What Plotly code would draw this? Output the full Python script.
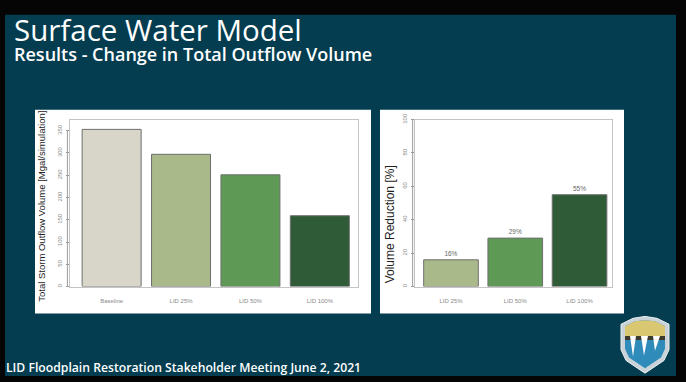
import plotly.graph_objects as go

# ---- data ----
scenarios = ["Baseline", "LID 25%", "LID 50%", "LID 100%"]
outflow_mgal = [353, 297, 251, 159]
outflow_colors = ["#d8d6c9", "#aab98a", "#5e9a56", "#2f5c37"]

lid_scenarios = ["LID 25%", "LID 50%", "LID 100%"]
reduction_pct = [16, 29, 55]
reduction_colors = ["#aab98a", "#5e9a56", "#2f5c37"]

outflow_ticks = [0, 50, 100, 150, 200, 250, 300, 350]
reduction_ticks = [0, 20, 40, 60, 80, 100]

W, H = 686, 382
TEAL = "#033d4f"


def fx(px):
    return px / W


def fy(py):
    return 1 - py / H


def path(points):
    s = "M " + " L ".join(f"{fx(x):.5f},{fy(y):.5f}" for x, y in points)
    return s + " Z"


fig = go.Figure()

fig.add_trace(go.Bar(
    x=scenarios, y=outflow_mgal, xaxis="x", yaxis="y",
    marker=dict(color=outflow_colors, line=dict(color="#6e6e6e", width=1)),
    showlegend=False, hoverinfo="skip",
))

fig.add_trace(go.Bar(
    x=lid_scenarios, y=reduction_pct, xaxis="x2", yaxis="y2",
    marker=dict(color=reduction_colors, line=dict(color="#6e6e6e", width=1)),
    text=[f"{v}%" for v in reduction_pct], textposition="outside",
    textfont=dict(family="Liberation Sans, Arial", size=6.5, color="#666666"),
    cliponaxis=False, showlegend=False, hoverinfo="skip",
))

tick_font = dict(family="Liberation Sans, Arial", size=6, color="#8a8a8a")
frame = dict(showline=True, linecolor="#c4c4c4", linewidth=1, mirror=True,
             showgrid=False, zeroline=False)

fig.update_layout(
    width=W, height=H,
    margin=dict(l=0, r=0, t=0, b=0),
    paper_bgcolor="#050505",
    plot_bgcolor="white",
    bargap=0.15,
    xaxis=dict(domain=[fx(70), fx(358)], range=[-0.6, 3.55], ticks="",
               tickfont=tick_font, ticklabelstandoff=8, fixedrange=True, **frame),
    yaxis=dict(domain=[fy(285.5), fy(115)], range=[0, 375], tickvals=outflow_ticks,
               ticks="outside", ticklen=3, tickcolor="#9a9a9a", tickangle=-90,
               tickfont=tick_font, ticklabelstandoff=2, fixedrange=True, **frame),
    xaxis2=dict(domain=[fx(415), fx(612)], range=[-0.56, 2.505], ticks="",
                tickfont=tick_font, ticklabelstandoff=8, fixedrange=True,
                anchor="y2", **frame),
    yaxis2=dict(domain=[fy(285.5), fy(115)], range=[0, 100], tickvals=reduction_ticks,
                ticks="outside", ticklen=3, tickcolor="#9a9a9a", tickangle=-90,
                tickfont=tick_font, ticklabelstandoff=2, fixedrange=True,
                anchor="x2", **frame),
)

shapes = [
    # slide body
    dict(type="rect", xref="paper", yref="paper", x0=fx(5), x1=fx(676),
         y0=fy(377), y1=fy(8), fillcolor=TEAL, line=dict(width=0), layer="below"),
    # white chart panels
    dict(type="rect", xref="paper", yref="paper", x0=fx(35), x1=fx(371),
         y0=fy(313), y1=fy(105), fillcolor="white", line=dict(width=0), layer="below"),
    dict(type="rect", xref="paper", yref="paper", x0=fx(380), x1=fx(624),
         y0=fy(313), y1=fy(105), fillcolor="white", line=dict(width=0), layer="below"),
    # offset value-axis lines
    dict(type="line", xref="x domain", yref="y", x0=-0.009, x1=-0.009, y0=0, y1=350,
         line=dict(color="#9a9a9a", width=1)),
    dict(type="line", xref="x2 domain", yref="y2", x0=-0.012, x1=-0.012, y0=0, y1=100,
         line=dict(color="#9a9a9a", width=1)),
    # emblem
    dict(type="path", xref="paper", yref="paper",
         path=path([(621, 324), (633, 318), (645, 316), (657, 318), (669, 324),
                    (669, 350), (664, 361), (645, 374), (626, 361), (621, 350)]),
         fillcolor="#c9d3d9", line=dict(color="#e8eef0", width=1)),
    dict(type="path", xref="paper", yref="paper",
         path=path([(625, 326), (635, 321), (645, 320), (655, 321), (665, 326),
                    (665, 349), (661, 358), (645, 369), (629, 358), (625, 349)]),
         fillcolor="#2f8cba", line=dict(width=0)),
    dict(type="path", xref="paper", yref="paper",
         path=path([(625, 326), (635, 321), (645, 320), (655, 321), (665, 326),
                    (665, 336), (625, 336)]),
         fillcolor="#d9c772", line=dict(width=0)),
    dict(type="path", xref="paper", yref="paper",
         path=path([(625, 336), (665, 336), (665, 340), (625, 340)]),
         fillcolor="#3c3a2c", line=dict(width=0)),
    dict(type="path", xref="paper", yref="paper",
         path=path([(630, 336), (636, 336), (633, 357)]),
         fillcolor="white", line=dict(width=0)),
    dict(type="path", xref="paper", yref="paper",
         path=path([(641, 336), (648, 336), (644, 356)]),
         fillcolor="white", line=dict(width=0)),
    dict(type="path", xref="paper", yref="paper",
         path=path([(653, 336), (660, 336), (655, 351)]),
         fillcolor="white", line=dict(width=0)),
]
fig.update_layout(shapes=shapes)

title_font = "Open Sans, Noto Sans, sans-serif"
annotations = [
    dict(text="Surface Water Model", x=fx(12), y=fy(23), xref="paper", yref="paper",
         xanchor="left", yanchor="middle", showarrow=False,
         font=dict(family=title_font, size=29.5, color="white")),
    dict(text="Results - Change in Total Outflow Volume", x=fx(12), y=fy(48),
         xref="paper", yref="paper", xanchor="left", yanchor="middle", showarrow=False,
         font=dict(family=title_font, size=18, color="white", weight=600)),
    dict(text="LID Floodplain Restoration Stakeholder Meeting June 2, 2021",
         x=fx(4), y=fy(368), xref="paper", yref="paper", xanchor="left",
         yanchor="middle", showarrow=False,
         font=dict(family=title_font, size=12.2, color="white", weight=600)),
    dict(text="Total Storm Outflow Volume [Mgal/simulation]", x=fx(42), y=fy(204),
         xref="paper", yref="paper", xanchor="center", yanchor="middle",
         textangle=-90, showarrow=False,
         font=dict(family="Liberation Sans, Arial", size=9.5, color="#222222")),
    dict(text="Volume Reduction [%]", x=fx(390), y=fy(222),
         xref="paper", yref="paper", xanchor="center", yanchor="middle",
         textangle=-90, showarrow=False,
         font=dict(family="Liberation Sans, Arial", size=12, color="#222222")),
]
fig.update_layout(annotations=annotations)

fig.write_html("out.html")
